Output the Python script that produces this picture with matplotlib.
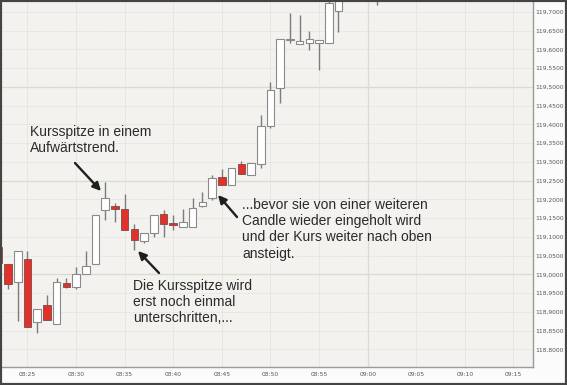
import datetime as dt

import matplotlib
matplotlib.use("Agg")
import matplotlib.pyplot as plt
import matplotlib.dates as mdates
import matplotlib.ticker as mticker
import numpy as np
from matplotlib.patches import Rectangle

# 1-minute candles
times = ["08:22", "08:23", "08:24", "08:25", "08:26", "08:27", "08:28", "08:29",
         "08:30", "08:31", "08:32", "08:33", "08:34", "08:35", "08:36", "08:37",
         "08:38", "08:39", "08:40", "08:41", "08:42", "08:43", "08:44", "08:45",
         "08:46", "08:47", "08:48", "08:49", "08:50", "08:51", "08:52", "08:53",
         "08:54", "08:55", "08:56", "08:57", "09:01"]
opens = [119.073, 119.028, 118.980, 119.040, 118.874, 118.918, 118.867, 118.976,
         118.966, 119.001, 119.027, 119.172, 119.183, 119.174, 119.121, 119.090,
         119.110, 119.160, 119.137, 119.127, 119.127, 119.182, 119.203, 119.259,
         119.238, 119.295, 119.265, 119.295, 119.396, 119.496, 119.625, 119.615,
         119.618, 119.618, 119.617, 119.704, 119.760]
highs = [119.080, 119.028, 119.061, 119.061, 118.907, 118.945, 118.991, 118.990,
         119.020, 119.061, 119.158, 119.247, 119.190, 119.214, 119.134, 119.110,
         119.158, 119.172, 119.158, 119.174, 119.205, 119.221, 119.265, 119.280,
         119.283, 119.303, 119.298, 119.425, 119.514, 119.628, 119.698, 119.692,
         119.650, 119.625, 119.740, 119.770, 119.790]
lows = [119.025, 118.961, 118.876, 118.860, 118.844, 118.878, 118.867, 118.963,
        118.960, 119.001, 119.027, 119.145, 119.139, 119.118, 119.065, 119.083,
        119.099, 119.099, 119.118, 119.127, 119.127, 119.179, 119.198, 119.238,
        119.238, 119.268, 119.265, 119.283, 119.390, 119.456, 119.617, 119.614,
        119.599, 119.545, 119.617, 119.646, 119.719]
closes = [119.030, 118.974, 119.061, 118.860, 118.907, 118.878, 118.980, 118.966,
          119.001, 119.022, 119.158, 119.205, 119.174, 119.118, 119.092, 119.110,
          119.158, 119.134, 119.133, 119.141, 119.178, 119.194, 119.256, 119.238,
          119.283, 119.268, 119.298, 119.396, 119.492, 119.628, 119.627, 119.623,
          119.627, 119.625, 119.723, 119.760, 119.780]

notes = [
    ("Kursspitze in einem\nAufwärtstrend.", (30, 260), (75, 222), (101, 194)),
    ("Die Kursspitze wird\nerst noch einmal\nunterschritten,...", (133, 106), (159, 112), (138, 134)),
    ("...bevor sie von einer weiteren\nCandle wieder eingeholt wird\n"
     "und der Kurs weiter nach oben\nansteigt.", (242, 187), (237, 168), (218, 190)),
]

day = dt.date(2020, 1, 6)
x = np.array([mdates.date2num(dt.datetime.combine(day, dt.time.fromisoformat(t))) for t in times])
o, h, l, c = map(np.array, (opens, highs, lows, closes))
up = c >= o
minute = 1 / 1440

fig = plt.figure(figsize=(5.67, 3.85), dpi=100, facecolor="#fbfbfb")
ax = fig.add_axes([2 / 567, 18.3 / 385, 530.7 / 567, 364.7 / 385])
ax.set_facecolor("#f3f2ef")

# grid: dotted every 0.05, solid every 0.25, vertical every 5 min
ax.yaxis.set_major_locator(mticker.MultipleLocator(0.05))
ax.yaxis.set_major_formatter(mticker.FuncFormatter(lambda v, p: f"{v:.4f}".replace(".", ",")))
ax.xaxis.set_major_locator(mdates.MinuteLocator(byminute=range(0, 60, 5)))
ax.xaxis.set_major_formatter(mdates.DateFormatter("%H:%M"))
ax.grid(axis="y", color="#dcdcd8", lw=0.6, ls=(0, (1, 1)), zorder=0)
ax.grid(axis="x", color="#e4e4e0", lw=0.6, zorder=0)
for v in np.arange(118.75, 119.80, 0.25):
    ax.axhline(v, color="#d6dccc", lw=0.9, zorder=0)
ax.axvline(mdates.date2num(dt.datetime.combine(day, dt.time(9, 0))), color="#a8aaa4", lw=0.8, zorder=0)

# candles
ax.vlines(x, l, h, color="#7c7c7c", lw=1.0, zorder=2)
body = np.maximum(np.abs(c - o), 0.0012)
ax.bar(x[up], body[up], width=0.78 * minute, bottom=np.minimum(o, c)[up],
       color="white", edgecolor="#8a8a8a", lw=0.8, zorder=3)
ax.bar(x[~up], body[~up], width=0.78 * minute, bottom=np.minimum(o, c)[~up],
       color="#e2302a", edgecolor="#7a4a48", lw=0.6, zorder=3)

x25 = mdates.date2num(dt.datetime.combine(day, dt.time(8, 25)))
ax.set_xlim(x25 - 2.62 * minute, x25 + 51.98 * minute)
ax.set_ylim(118.7536, 119.7267)

ax.yaxis.tick_right()
ax.tick_params(axis="both", length=0, labelsize=4.3, labelcolor="#555555")
ax.tick_params(axis="y", pad=2)
ax.tick_params(axis="x", pad=4)
for side in ("top", "left"):
    ax.spines[side].set_visible(False)
for side in ("right", "bottom"):
    ax.spines[side].set_color("#9a9a9a")
    ax.spines[side].set_linewidth(1.0)

for text, pos, start, tip in notes:
    fig.text(pos[0] / 567, pos[1] / 385, text, ha="left", va="top",
             fontsize=10, family="Liberation Sans", color="#2a2a2a", linespacing=1.2)
    ax.annotate("", xy=tip, xycoords="figure pixels", xytext=start, textcoords="figure pixels",
                arrowprops=dict(arrowstyle="-|>", color="#1e1e1e", lw=1.7, mutation_scale=12,
                                shrinkA=0, shrinkB=0))

fig.add_artist(Rectangle((0, 0), 1, 1, transform=fig.transFigure, fill=False,
                         ec="#444444", lw=3))

fig.savefig("out.png", dpi=100, facecolor=fig.get_facecolor())
